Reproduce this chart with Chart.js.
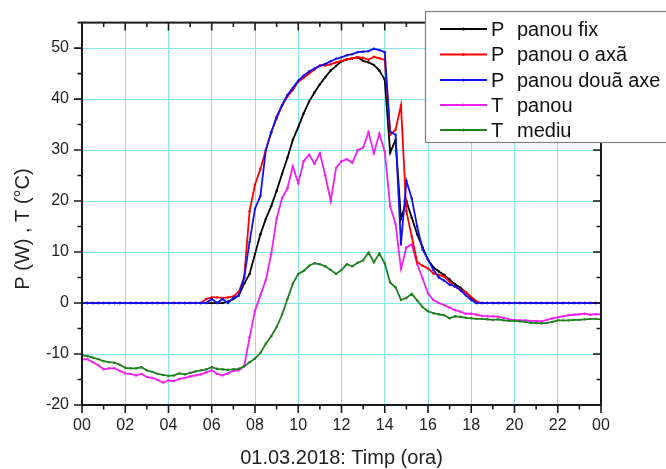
<!DOCTYPE html>
<html>
<head>
<meta charset="utf-8">
<script src="https://cdn.jsdelivr.net/npm/chart.js@4"></script>
<style>
  html, body { margin: 0; padding: 0; background: #fff; }
  canvas { display: block; }
</style>
</head>
<body>
<canvas id="chart" width="666" height="469"></canvas>
<script>
// time axis, one reading every 15 minutes
const HOURS = Array.from({ length: 97 }, (_, i) => i / 4);

const X_TICKS = [0, 2, 4, 6, 8, 10, 12, 14, 16, 18, 20, 22, 24];
const Y_TICKS = [-20, -10, 0, 10, 20, 30, 40, 50];

const SERIES_LABELS = ['P  panou fix', 'P  panou o axã', 'P  panou douã axe', 'T  panou', 'T  mediu'];

const P_FIX = [
  0, 0, 0, 0, 0, 0, 0, 0,
  0, 0, 0, 0, 0, 0, 0, 0,
  0, 0, 0, 0, 0, 0, 0, 0,
  0, 0, 0, 0.3, 0.8, 1.5, 3.8, 5.7,
  9.6, 13.5, 16.5, 19.0, 22.0, 25.3, 28.5, 32.0,
  34.5, 37.2, 39.5, 41.3, 42.9, 44.3, 45.6, 46.5,
  47.4, 47.8, 48.0, 48.2, 47.5, 47.2, 46.7, 45.6,
  43.8, 29.5, 32.0, 16.5, 20.0, 16.7, 13.5, 10.9,
  8.5, 7.0, 6.2, 5.5, 4.6, 3.7, 3.0, 2.1,
  1.0, 0, 0, 0, 0, 0, 0, 0,
  0, 0, 0, 0, 0, 0, 0, 0,
  0, 0, 0, 0, 0, 0, 0, 0,
  0
];

const P_AXA = [
  0, 0, 0, 0, 0, 0, 0, 0,
  0, 0, 0, 0, 0, 0, 0, 0,
  0, 0, 0, 0, 0, 0, 0, 0.8,
  1.1, 1.1, 1.0, 1.1, 1.3, 2.2, 5.0, 18.0,
  23.2, 26.3, 30.0, 33.5, 36.2, 38.7, 40.5, 41.8,
  43.4, 44.2, 45.0, 45.8, 46.6, 46.6, 46.8, 47.2,
  47.5, 47.8, 48.0, 48.2, 48.1, 47.7, 48.3, 48.0,
  47.7, 33.0, 34.0, 38.8, 18.0, 13.0, 8.0, 7.3,
  6.8, 5.8, 5.5, 5.2, 4.2, 3.2, 2.6, 2.1,
  1.2, 0.3, 0, 0, 0, 0, 0, 0,
  0, 0, 0, 0, 0, 0, 0, 0,
  0, 0, 0, 0, 0, 0, 0, 0,
  0
];

const P_DOUA = [
  0, 0, 0, 0, 0, 0, 0, 0,
  0, 0, 0, 0, 0, 0, 0, 0,
  0, 0, 0, 0, 0, 0, 0, 0,
  0.8, 0, 0.8, 0, 1.0, 1.5, 5.0, 12.0,
  18.5, 21.0, 30.0, 33.5, 36.5, 38.8, 40.8, 42.2,
  43.6, 44.6, 45.4, 46.0, 46.5, 46.9, 47.4, 47.9,
  48.2, 48.6, 48.8, 49.2, 49.3, 49.4, 49.9, 49.6,
  49.2, 33.6, 33.0, 11.5, 24.0, 20.5, 15.0, 10.5,
  8.5, 6.5, 5.0, 4.4, 3.6, 3.3, 2.5, 1.5,
  0.6, 0, 0, 0, 0, 0, 0, 0,
  0, 0, 0, 0, 0, 0, 0, 0,
  0, 0, 0, 0, 0, 0, 0, 0,
  0
];

const T_PANOU = [
  -11.1, -11.0, -11.6, -12.2, -13.0, -12.8, -12.8, -13.3,
  -13.8, -13.9, -14.2, -13.9, -14.5, -14.7, -15.1, -15.6,
  -15.2, -15.3, -14.9, -14.7, -14.4, -14.2, -14.0, -13.6,
  -13.2, -13.9, -14.2, -13.8, -13.3, -13.2, -12.4, -6.7,
  -1.5, 1.5, 4.5, 9.6, 16.5, 20.6, 22.5, 26.8,
  23.5, 27.8, 29.1, 27.3, 29.4, 25.0, 20.0, 26.5,
  27.8, 28.2, 27.5, 30.0, 30.5, 33.5, 29.4, 33.2,
  29.7, 19.0, 15.5, 6.7, 10.9, 11.5, 7.6, 4.8,
  1.9, 0.6, 0.0, -0.4, -0.9, -1.4, -1.7, -2.1,
  -2.1, -2.3, -2.5, -2.6, -2.6, -2.7, -2.9, -3.2,
  -3.3, -3.4, -3.4, -3.5, -3.5, -3.6, -3.3, -3.0,
  -2.8, -2.6, -2.4, -2.3, -2.2, -2.1, -2.3, -2.2,
  -2.2
];

const T_MEDIU = [
  -10.2, -10.4, -10.7, -11.0, -11.4, -11.6, -11.7, -12.1,
  -12.7, -12.8, -12.8, -12.6, -13.2, -13.5, -13.9, -14.1,
  -14.3, -14.2, -13.8, -14.0, -13.7, -13.4, -13.2, -13.0,
  -12.6, -12.9, -13.0, -13.1, -13.0, -12.9, -12.4, -11.6,
  -10.9, -9.8, -8.0, -6.5, -4.7, -2.3, 0.8, 3.8,
  5.7, 6.3, 7.3, 7.8, 7.6, 7.2, 6.5, 5.7,
  6.5, 7.6, 7.2, 7.9, 8.4, 9.9, 8.0, 9.7,
  7.8, 4.0, 3.1, 0.6, 1.0, 1.8, 0.5, -0.8,
  -1.6, -2.0, -2.2, -2.4, -3.0, -2.6, -2.7, -2.9,
  -3.0, -3.1, -3.1, -3.2, -3.3, -3.2, -3.4, -3.5,
  -3.5, -3.6, -3.7, -3.9, -3.9, -4.0, -3.9, -3.7,
  -3.4, -3.4, -3.4, -3.3, -3.3, -3.2, -3.1, -3.1,
  -3.2
];

const COLORS = ['#000000', '#ff0000', '#1010f0', '#f020f0', '#1f801f'];
const FONT = '"Liberation Sans", Arial, sans-serif';

function points (values) {
  return values.map((v, i) => ({ x: HOURS[i], y: v }));
}

function series (index, values, order) {
  return {
    label: SERIES_LABELS[index],
    data: points(values),
    borderColor: COLORS[index],
    backgroundColor: COLORS[index],
    borderWidth: 1.8,
    pointRadius: 1.2,
    pointHoverRadius: 1.2,
    pointBorderWidth: 0,
    tension: 0,
    order
  };
}

// frame, mirrored ticks, axis titles and the legend box
const framePlugin = {
  id: 'frame',
  afterDraw (chart) {
    const { ctx, chartArea: a, scales: { x, y } } = chart;
    ctx.save();

    ctx.strokeStyle = '#1a1a1a';
    ctx.lineWidth = 2;
    ctx.strokeRect(a.left, a.top, a.right - a.left, a.bottom - a.top);

    ctx.lineWidth = 1.6;
    ctx.beginPath();
    for (let h = 0; h <= 24; h++) {
      const px = x.getPixelForValue(h);
      const len = h % 2 ? 4.5 : 8;
      ctx.moveTo(px, a.bottom); ctx.lineTo(px, a.bottom + len);
      ctx.moveTo(px, a.top); ctx.lineTo(px, a.top + len);
    }
    for (let v = -20; v <= 55; v += 5) {
      const py = y.getPixelForValue(v);
      const len = v % 10 ? 4.5 : 8;
      ctx.moveTo(a.left, py); ctx.lineTo(a.left - len, py);
      ctx.moveTo(a.right, py); ctx.lineTo(a.right - len, py);
    }
    ctx.stroke();

    // axis titles
    ctx.fillStyle = '#222';
    ctx.font = '20px ' + FONT;
    ctx.textAlign = 'center';
    ctx.textBaseline = 'middle';
    ctx.fillText('01.03.2018: Timp (ora)', (a.left + a.right) / 2, 458);

    ctx.save();
    ctx.translate(23, 229);
    ctx.rotate(-Math.PI / 2);
    ctx.fillText('P (W) , T (°C)', 0, 0);
    ctx.restore();

    // legend
    ctx.fillStyle = '#fff';
    ctx.fillRect(425, 11, 260, 131);
    ctx.strokeStyle = '#808080';
    ctx.lineWidth = 1.2;
    ctx.strokeRect(425.5, 11.5, 260, 131);

    const rows = [29, 54.5, 80, 105, 130];
    ctx.font = '20px ' + FONT;
    ctx.textAlign = 'left';
    SERIES_LABELS.forEach((label, i) => {
      const ry = rows[i];
      ctx.strokeStyle = COLORS[i];
      ctx.lineWidth = 1.8;
      ctx.beginPath();
      ctx.moveTo(440, ry); ctx.lineTo(487, ry);
      ctx.stroke();
      ctx.fillStyle = COLORS[i];
      ctx.beginPath();
      ctx.arc(463.5, ry, 1.5, 0, Math.PI * 2);
      ctx.fill();
      const [sym, ...rest] = label.split('  ');
      ctx.fillStyle = '#111';
      ctx.fillText(sym, 491, ry + 1);
      ctx.fillText(rest.join(' '), 517, ry + 1);
    });

    ctx.restore();
  }
};

new Chart(document.getElementById('chart'), {
  type: 'line',
  data: {
    datasets: [
      series(0, P_FIX, 3),
      series(1, P_AXA, 2),
      series(2, P_DOUA, 1),
      series(3, T_PANOU, 5),
      series(4, T_MEDIU, 4)
    ]
  },
  options: {
    responsive: false,
    animation: false,
    events: [],
    layout: { padding: { top: 22, right: 65, left: 0, bottom: 0 } },
    plugins: {
      legend: { display: false },
      tooltip: { enabled: false }
    },
    scales: {
      x: {
        type: 'linear',
        min: 0,
        max: 24,
        afterBuildTicks: scale => { scale.ticks = X_TICKS.map(value => ({ value })); },
        afterFit: scale => { scale.height = 64; },
        grid: { color: '#86e6e6', lineWidth: 1, drawTicks: false },
        border: { display: false },
        ticks: {
          padding: 11,
          maxRotation: 0,
          autoSkip: false,
          color: '#222',
          font: { family: FONT, size: 16 },
          callback: value => String(value % 24).padStart(2, '0')
        }
      },
      y: {
        min: -20,
        max: 55,
        afterBuildTicks: scale => { scale.ticks = Y_TICKS.map(value => ({ value })); },
        afterFit: scale => { scale.width = 82; },
        grid: { color: '#86e6e6', lineWidth: 1, drawTicks: false },
        border: { display: false },
        ticks: {
          padding: 13,
          color: '#222',
          font: { family: FONT, size: 16 }
        }
      }
    }
  },
  plugins: [framePlugin]
});
</script>
</body>
</html>
